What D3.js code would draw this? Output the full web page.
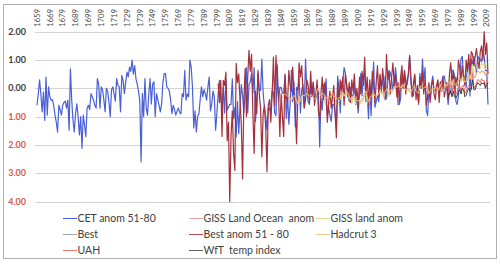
<!DOCTYPE html>
<html lang="en">
<head>
<meta charset="UTF-8">
<title>CET and global temperature anomalies</title>
<script src="https://d3js.org/d3.v7.min.js"></script>
<style>
    body { margin: 0; background: white; }
    text { font-family: Lato, "Open Sans", sans-serif; }
</style>
</head>
<body>
<div id="chart"></div>
<script>
    // years shown on the top axis
    const tickYears = [1659,1669,1679,1689,1699,1709,1719,1729,1739,1749,1759,1769,1779,1789,1799,
        1809,1819,1829,1839,1849,1859,1869,1879,1889,1899,1909,1919,1929,1939,1949,1959,1969,1979,1989,1999,2009];
    const yTicks = [2, 1, 0, -1, -2, -3, -4];

    // CET anomaly vs 1951-80, from 1659
    const cet = [
        -0.60,-0.20,0.30,-0.20,-0.83,-0.13,-1.13,0.40,-0.95,0.05,
        -0.30,-0.42,-0.40,-0.60,-0.95,-1.20,-1.54,-0.60,-0.75,-0.95,
        -0.60,-0.50,-0.45,-0.70,-0.42,-1.48,0.69,-0.40,-1.13,-1.54,
        -0.90,-0.55,-1.00,-1.65,-1.00,-2.12,-0.95,-1.30,-1.71,-0.70,
        -0.60,-0.75,-0.19,-0.30,-0.42,-0.60,-0.70,0.34,0.15,-0.70,
        0.05,-0.05,-0.40,-0.83,0.00,-0.10,-0.50,-1.00,-0.05,0.05,
        -0.20,-0.45,0.34,0.10,0.05,-0.83,0.46,0.28,-0.19,0.20,
        0.57,0.40,0.75,0.60,1.00,0.50,0.80,0.34,0.15,-0.10,
        -0.45,-2.60,-0.19,-1.00,0.34,-0.70,-0.95,-0.20,0.34,-0.55,
        0.15,0.23,-1.00,-0.19,-0.40,-0.60,-0.83,-0.55,0.20,0.52,
        0.52,0.05,0.00,-0.10,-0.42,-0.90,-0.60,-0.75,-0.95,-0.80,
        -0.70,-0.85,-0.90,-0.19,-0.30,0.63,-0.42,-0.20,-0.30,1.00,
        0.75,0.05,-1.40,-0.80,-1.54,-1.00,-0.90,-0.40,0.05,-0.30,
        -0.05,-0.19,-0.42,0.05,0.40,-0.80,-0.55,-0.10,-0.30,-1.48,
        -0.90,-0.20,0.28,
        -0.37,-0.67,0.03,-0.87,0.33,-0.77,-0.67,-0.57,
        -0.57,0.33,-1.07,-0.67,-1.72,-0.47,-1.60,-0.67,0.13,-0.27,
        -0.87,-0.07,0.73,-0.87,0.13,0.23,0.53,-0.17,0.73,-1.17,
        -0.57,0.53,-0.07,-0.07,1.03,-0.17,-0.67,-0.97,-1.47,-0.67,
        -0.77,-0.67,-0.07,-0.17,-0.87,-0.97,0.83,-0.47,0.03,0.03,
        -0.17,-0.17,0.43,-1.07,-0.27,-1.27,-0.57,0.63,-0.47,0.23,
        -1.37,0.03,-0.07,0.43,-0.87,-0.07,0.13,-0.67,1.03,-0.07,
        -0.47,-0.57,0.13,-0.27,0.23,-0.37,-0.37,-0.17,-0.07,-2.07,
        -0.37,-0.77,0.13,-0.27,0.33,-0.97,-0.67,-0.97,-1.17,-0.57,
        -0.57,-0.87,-1.37,0.43,0.03,-0.87,0.23,0.23,0.73,0.53,
        0.13,-0.27,-0.47,0.03,-0.27,-0.27,0.13,-0.57,-0.37,-0.87,
        -0.17,0.53,-0.27,0.43,0.53,-0.47,-0.17,-1.07,0.13,-0.97,
        0.13,0.93,-0.67,-0.47,-0.27,-0.47,0.43,0.03,0.33,-0.17,
        0.43,-0.37,0.23,0.63,0.53,0.33,-0.07,0.23,0.73,0.23,
        -0.57,-0.57,-0.37,0.53,0.03,0.63,0.23,0.13,0.43,1.13,
        0.23,-0.27,-0.27,0.43,-0.17,-0.17,-0.57,0.53,0.03,1.03,
        0.23,0.73,-0.77,-0.97,-0.07,-0.37,0.13,0.43,-0.07,-0.07,
        0.03,0.23,-0.17,0.23,0.23,0.43,0.43,0.13,-0.07,-0.57,
        -0.07,-0.17,0.63,0.63,0.43,-0.47,-0.57,-0.27,0.33,1.03,
        1.13,0.33,0.43,0.03,0.83,0.93,-0.27,1.03,0.83,1.13,
        0.83,0.53,1.13,1.03,1.03,0.93,1.33,1.13,0.63,0.63,
        -0.57
    ];

    // GISS land-ocean anomaly, from 1880
    const gissLandOcean = [
        -0.25,-0.20,-0.22,-0.30,-0.35,-0.33,-0.30,-0.36,-0.25,-0.15,
        -0.35,-0.28,-0.35,-0.38,-0.36,-0.30,-0.15,-0.12,-0.30,-0.20,
        -0.12,-0.18,-0.32,-0.38,-0.45,-0.32,-0.24,-0.42,-0.45,-0.45,
        -0.42,-0.48,-0.38,-0.36,-0.20,-0.12,-0.35,-0.45,-0.32,-0.26,
        -0.24,-0.18,-0.26,-0.24,-0.24,-0.20,-0.08,-0.18,-0.16,-0.30,
        -0.12,-0.06,-0.08,-0.24,-0.08,-0.12,-0.08,0.02,0.04,0.02,
        0.06,0.08,0.04,0.06,0.16,0.04,-0.06,-0.02,-0.06,-0.06,
        -0.16,-0.02,0.04,0.10,-0.12,-0.14,-0.18,0.06,0.08,0.04,
        -0.02,0.06,0.04,0.08,-0.18,-0.10,-0.04,-0.02,-0.06,0.06,
        0.02,-0.08,0.00,0.14,-0.08,-0.04,-0.12,0.14,0.04,0.12,
        0.24,0.30,0.10,0.30,0.14,0.10,0.16,0.30,0.36,0.24,
        0.40,0.38,0.20,0.22,0.28,0.42,0.32,0.44,0.60,0.38,
        0.38,0.52,0.60,0.58,0.52,0.64,0.58,0.60,0.48,0.58,
        0.66
    ];

    // GISS land anomaly, from 1880
    const gissLand = [
        -0.40,-0.30,-0.35,-0.50,-0.60,-0.55,-0.45,-0.55,-0.35,-0.20,
        -0.50,-0.40,-0.55,-0.60,-0.45,-0.40,-0.25,-0.20,-0.40,-0.30,
        -0.15,-0.20,-0.40,-0.45,-0.55,-0.40,-0.25,-0.55,-0.50,-0.55,
        -0.45,-0.55,-0.50,-0.40,-0.25,-0.20,-0.45,-0.60,-0.45,-0.35,
        -0.30,-0.15,-0.35,-0.30,-0.25,-0.20,-0.05,-0.15,-0.10,-0.35,
        -0.05,0.00,-0.05,-0.30,-0.05,-0.15,-0.05,0.05,0.15,0.05,
        0.05,0.05,0.00,0.05,0.10,-0.05,-0.05,0.00,-0.05,-0.10,
        -0.15,-0.05,0.05,0.15,-0.10,-0.10,-0.20,0.10,0.10,0.05,
        0.05,0.10,0.05,0.05,-0.20,-0.10,-0.05,0.00,-0.10,0.05,
        0.05,-0.10,-0.05,0.15,-0.10,0.00,-0.15,0.15,0.00,0.10,
        0.30,0.45,0.10,0.40,0.15,0.10,0.20,0.35,0.45,0.30,
        0.55,0.50,0.25,0.30,0.40,0.65,0.40,0.55,0.85,0.60,
        0.55,0.75,0.85,0.80,0.70,0.90,0.80,0.90,0.65,0.75,
        0.90
    ];

    // Best (absolute, off the anomaly scale)
    const best = [];

    // Best anomaly vs 1951-80, from 1800
    const bestAnom = [
        0.17,-0.50,0.28,-1.70,0.28,0.10,0.57,-1.85,-1.20,-4.00,
        -1.70,-0.80,-2.30,-2.90,0.88,0.20,0.50,-0.42,-1.30,-3.20,
        -0.40,0.70,-1.00,0.40,1.34,0.60,1.20,-0.90,-2.30,-0.10,
        -0.90,0.63,-0.20,-0.70,-2.42,-0.90,-0.60,-1.40,-2.95,-0.60,
        -0.40,-1.20,-0.20,1.10,-0.60,1.16,0.20,-0.30,-1.70,-0.20,
        -1.00,-1.70,0.50,-0.30,-0.50,0.63,0.10,-0.10,0.75,-0.20,
        -0.70,-1.96,-0.30,0.90,0.40,0.80,-0.10,-0.70,-0.40,0.30,
        0.10,-0.50,0.60,-0.30,0.20,-0.60,-0.20,0.30,-0.80,-1.10,
        -0.20,0.40,-0.40,0.20,-0.30,-1.20,-0.50,-0.10,-0.70,-0.30,
        0.10,-0.90,-1.75,0.20,-0.40,0.30,-0.20,0.40,-0.60,0.50,
        0.10,-0.30,0.20,-0.50,0.30,-0.10,0.50,-0.40,0.00,-0.70,
        0.40,-0.20,0.60,0.10,1.10,-0.20,0.40,-0.60,0.30,-0.40,
        0.60,0.10,-0.50,0.20,0.80,-0.30,0.50,-0.10,0.70,0.20,
        -0.40,1.20,0.30,0.60,-0.20,0.40,0.90,0.10,0.50,-0.30,
        0.20,-0.50,0.40,0.80,0.00,0.60,-0.20,0.30,0.50,1.16,
        0.40,-0.30,0.20,0.50,-0.40,0.10,-0.50,0.40,0.00,0.60,
        -0.20,0.30,-0.60,-0.30,0.20,-0.50,0.10,0.30,-0.20,-0.40,
        0.10,0.30,-0.50,0.20,-0.10,0.40,-0.30,0.00,0.20,-0.40,
        0.50,0.90,0.20,0.60,-0.10,0.40,0.10,1.00,0.70,0.30,
        0.80,0.40,0.10,1.00,0.60,1.20,0.50,1.30,1.20,0.80,
        1.10,1.40,1.00,0.70,1.30,1.50,1.00,2.00,1.20,1.60,
        0.50
    ];

    // Hadcrut 3, from 1850
    const hadcrut3 = [
        -0.35,-0.22,-0.20,-0.25,-0.28,-0.27,-0.35,-0.45,-0.30,-0.25,
        -0.33,-0.40,-0.55,-0.28,-0.48,-0.27,-0.25,-0.27,-0.20,-0.20,
        -0.23,-0.27,-0.23,-0.25,-0.33,-0.38,-0.37,-0.05,0.02,-0.22,
        -0.24,-0.17,-0.20,-0.28,-0.35,-0.32,-0.28,-0.33,-0.25,-0.15,
        -0.32,-0.28,-0.37,-0.38,-0.33,-0.33,-0.12,-0.12,-0.28,-0.17,
        -0.10,-0.17,-0.30,-0.38,-0.45,-0.30,-0.22,-0.41,-0.43,-0.44,
        -0.43,-0.46,-0.36,-0.35,-0.17,-0.10,-0.33,-0.47,-0.34,-0.28,
        -0.25,-0.17,-0.27,-0.27,-0.24,-0.20,-0.06,-0.18,-0.17,-0.31,
        -0.10,-0.04,-0.06,-0.24,-0.07,-0.11,-0.07,0.04,0.06,0.02,
        0.09,0.07,0.04,0.05,0.14,0.02,-0.07,-0.04,-0.06,-0.07,
        -0.17,-0.03,0.02,0.07,-0.12,-0.14,-0.19,0.06,0.08,0.04,
        0.00,0.06,0.05,0.07,-0.19,-0.10,-0.03,0.00,-0.04,0.07,
        -0.01,-0.10,0.01,0.14,-0.08,-0.03,-0.12,0.16,0.07,0.17,
        0.22,0.28,0.12,0.32,0.14,0.12,0.19,0.31,0.32,0.25,
        0.41,0.38,0.21,0.25,0.30,0.45,0.32,0.48,0.67,0.42,
        0.41,0.55,0.60,0.60,0.55,0.61,0.56,0.54,0.44,0.55,
        0.60
    ];

    // UAH satellite, from 1979
    const uah = [
        -0.17,0.06,0.13,-0.13,0.12,-0.19,-0.21,-0.12,0.11,0.11,
        -0.10,0.08,0.12,-0.18,-0.12,0.01,0.10,0.05,0.05,0.52,
        0.04,0.03,0.20,0.31,0.28,0.20,0.34,0.26,0.28,0.05,
        0.26,0.41
    ];

    // WfT temp index, from 1979
    const wft = [
        -0.30,-0.20,-0.10,-0.30,-0.10,-0.30,-0.35,-0.25,-0.10,-0.05,
        -0.20,0.00,-0.05,-0.30,-0.25,-0.10,0.00,-0.10,-0.05,0.30,
        -0.05,-0.05,0.10,0.20,0.15,0.10,0.20,0.15,0.20,0.00,
        0.10,0.20
    ];

    const series = [
        { name: "CET anom 51-80", start: 1659, values: cet, color: "#4a5fd6", legend: "#4a5fd6", w: 1.2 },
        { name: "GISS Land Ocean  anom", start: 1880, values: gissLandOcean, color: "#e8a3ab", legend: "#e8a3ab", w: 1 },
        { name: "GISS land anom", start: 1880, values: gissLand, color: "#dcd98a", legend: "#d8dc90", w: 1 },
        { name: "Best", start: 1800, values: best, color: "#a6a6a6", legend: "#a6a6a6", w: 1 },
        { name: "Best anom 51 - 80", start: 1800, values: bestAnom, color: "#a4303c", legend: "#c24858", w: 1.2 },
        { name: "Hadcrut 3", start: 1850, values: hadcrut3, color: "#f0bf80", legend: "#f0c890", w: 1 },
        { name: "UAH", start: 1979, values: uah, color: "#ee6a6a", legend: "#f07878", w: 1 },
        { name: "WfT  temp index", start: 1979, values: wft, color: "#3a3a3a", legend: "#606060", w: 1 }
    ];

    const width = 500, height = 270;
    const svg = d3.select("#chart").append("svg")
        .attr("width", width)
        .attr("height", height);

    // chart frame
    svg.append("rect")
        .attr("x", 3.5).attr("y", 4.5)
        .attr("width", 493).attr("height", 254)
        .attr("fill", "white")
        .attr("stroke", "#b0b0b0");

    const x = d3.scaleLinear().domain([1659, 2010]).range([37, 488]);
    const y = d3.scaleLinear().domain([-4, 2]).range([201.5, 31.7]);

    // gridlines
    svg.append("g")
        .selectAll("line")
        .data(yTicks)
        .join("line")
        .attr("x1", 35).attr("x2", 490)
        .attr("y1", d => Math.round(y(d)) + 0.5)
        .attr("y2", d => Math.round(y(d)) + 0.5)
        .attr("stroke", "#d4d4d4");

    // y labels, negatives in red without sign
    svg.append("g")
        .selectAll("text")
        .data(yTicks)
        .join("text")
        .attr("x", 26)
        .attr("y", d => y(d))
        .attr("dy", "0.35em")
        .attr("text-anchor", "end")
        .attr("font-size", 9)
        .attr("font-weight", "bold")
        .attr("fill", d => d < 0 ? "#d65a4c" : "#404040")
        .text(d => Math.abs(d).toFixed(2));

    // top year labels
    svg.append("g")
        .selectAll("text")
        .data(tickYears)
        .join("text")
        .attr("transform", d => `translate(${x(d)},27) rotate(-90)`)
        .attr("dy", "0.35em")
        .attr("text-anchor", "start")
        .attr("font-size", 7.8)
        .attr("fill", "#454545")
        .text(d => d);

    // lines
    const line = d3.line()
        .x(d => x(d.year))
        .y(d => y(d.value));

    series.forEach(s => {
        if (!s.values.length) return;
        const pts = s.values.map((v, i) => ({ year: s.start + i, value: v }));
        svg.append("path")
            .datum(pts)
            .attr("fill", "none")
            .attr("stroke", s.color)
            .attr("stroke-width", s.w)
            .attr("stroke-linejoin", "round")
            .attr("d", line);
    });

    // legend, 3 columns
    const legCols = [63, 189, 316];
    const legRows = [218, 234, 250];
    const leg = svg.append("g")
        .selectAll("g")
        .data(series)
        .join("g")
        .attr("transform", (d, i) => `translate(${legCols[i % 3]},${legRows[Math.floor(i / 3)]})`);
    leg.append("line")
        .attr("x1", 0).attr("x2", 14)
        .attr("y1", 0.5).attr("y2", 0.5)
        .attr("stroke", d => d.legend)
        .attr("stroke-width", 1);
    leg.append("text")
        .attr("x", 14.5)
        .attr("dy", "0.35em")
        .attr("font-size", 10.5)
        .attr("fill", "#404040")
        .style("white-space", "pre")
        .text(d => d.name);
</script>
</body>
</html>
